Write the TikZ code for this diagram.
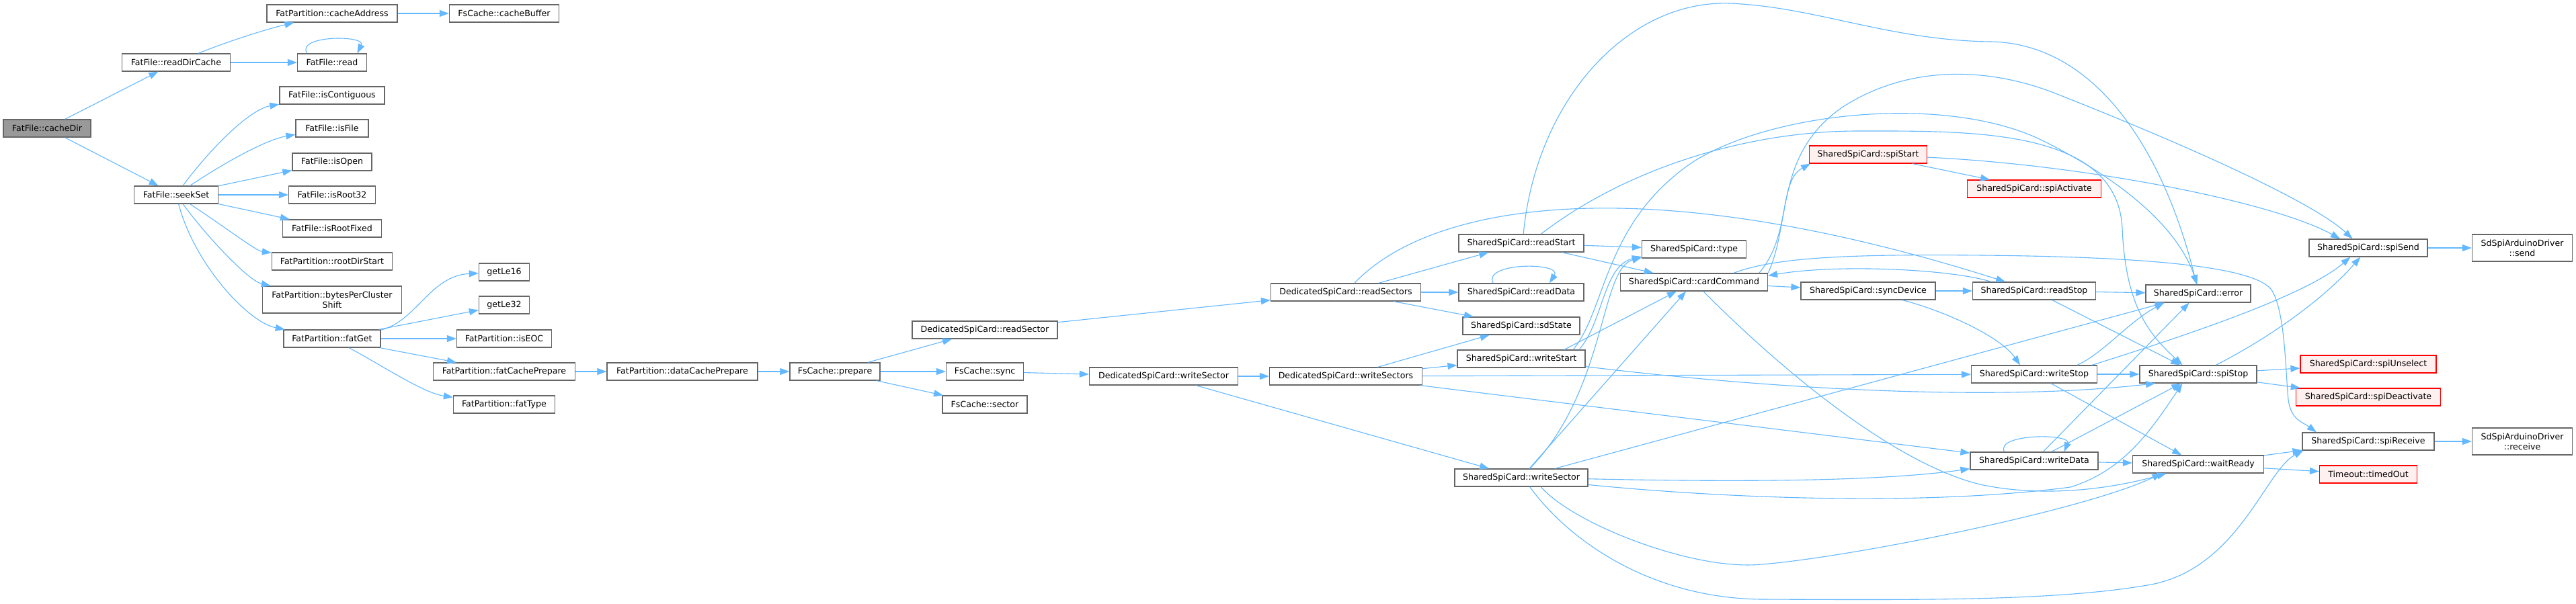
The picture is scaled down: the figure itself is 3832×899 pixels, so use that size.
\documentclass[tikz,border=0pt]{standalone}
\usepackage{fontspec}
\usetikzlibrary{arrows.meta}
\newfontfamily\dejavu{DejaVu Sans}
\newcommand{\fnfont}{\dejavu\fontsize{6.3pt}{7.4pt}\selectfont}
\definecolor{edgeblue}{HTML}{63B8FF}
\definecolor{boxgray}{HTML}{666666}
\definecolor{rootgray}{HTML}{999999}
\definecolor{extpink}{HTML}{FFF0F0}
\begin{document}
\begin{tikzpicture}[x=0.5pt, y=-0.5pt,
    fnbox/.style={draw=boxgray, fill=white, line width=0.6pt, inner sep=0pt, minimum height=13pt, align=center, font=\fnfont},
    rootbox/.style={fnbox, fill=rootgray},
    redbox/.style={fnbox, draw=red, fill=extpink},
    call/.style={draw=edgeblue, line width=0.55pt, -{Triangle[length=7pt,width=5pt]}}]
    \useasboundingbox (0,0) rectangle (3832,899);
    \fill[white] (0,0) rectangle (3832,899);

    % Nodes (FatFile / FatPartition side)
    \node[rootbox, minimum width=65pt] (cachedir) at (70,191) {FatFile::cacheDir};
    \node[fnbox, minimum width=80.5pt] (readdircache) at (262,93) {FatFile::readDirCache};
    \node[fnbox, minimum width=62.5pt] (seekset) at (262,290) {FatFile::seekSet};
    \node[fnbox, minimum width=97pt] (cacheaddress) at (494,20) {FatPartition::cacheAddress};
    \node[fnbox, minimum width=51.5pt] (read) at (494,93) {FatFile::read};
    \node[fnbox, minimum width=78pt] (iscontiguous) at (494,142) {FatFile::isContiguous};
    \node[fnbox, minimum width=54pt] (isfile) at (494,191) {FatFile::isFile};
    \node[fnbox, minimum width=59pt] (isopen) at (494,241) {FatFile::isOpen};
    \node[fnbox, minimum width=64.5pt] (isroot32) at (494,290) {FatFile::isRoot32};
    \node[fnbox, minimum width=73.5pt] (isrootfixed) at (494,340) {FatFile::isRootFixed};
    \node[fnbox, minimum width=89.5pt] (rootdirstart) at (494,389) {FatPartition::rootDirStart};
    \node[fnbox, minimum width=103.5pt, minimum height=20pt] (bytespercluster) at (494,446) {FatPartition::bytesPerCluster\\Shift};
    \node[fnbox, minimum width=72pt] (fatget) at (494,504) {FatPartition::fatGet};
    \node[fnbox, minimum width=81.5pt] (cachebuffer) at (750,20) {FsCache::cacheBuffer};
    \node[fnbox, minimum width=37.5pt] (getle16) at (750,405) {getLe16};
    \node[fnbox, minimum width=37.5pt] (getle32) at (750,454) {getLe32};
    \node[fnbox, minimum width=70.5pt] (iseoc) at (750,504) {FatPartition::isEOC};
    \node[fnbox, minimum width=105.5pt] (fatcacheprepare) at (750,553) {FatPartition::fatCachePrepare};
    \node[fnbox, minimum width=75.5pt] (fattype) at (750,602) {FatPartition::fatType};
    \node[fnbox, minimum width=112pt] (datacacheprepare) at (1015,553) {FatPartition::dataCachePrepare};

    % Nodes (cache and dedicated card)
    \node[fnbox, minimum width=67pt] (prepare) at (1242,553) {FsCache::prepare};
    \node[fnbox, minimum width=108pt] (readsector) at (1465,491) {DedicatedSpiCard::readSector};
    \node[fnbox, minimum width=57.5pt] (sync) at (1465,553) {FsCache::sync};
    \node[fnbox, minimum width=63pt] (sector) at (1465,602) {FsCache::sector};
    \node[fnbox, minimum width=110.5pt] (dwritesector) at (1731,560) {DedicatedSpiCard::writeSector};
    \node[fnbox, minimum width=111.5pt] (readsectors) at (2002,435) {DedicatedSpiCard::readSectors};
    \node[fnbox, minimum width=113.5pt] (writesectors) at (2002,560) {DedicatedSpiCard::writeSectors};

    % Nodes (shared card)
    \node[fnbox, minimum width=93pt] (readstart) at (2263,362) {SharedSpiCard::readStart};
    \node[fnbox, minimum width=93pt] (readdata) at (2263,435) {SharedSpiCard::readData};
    \node[fnbox, minimum width=87pt] (sdstate) at (2263,485) {SharedSpiCard::sdState};
    \node[fnbox, minimum width=95pt] (writestart) at (2263,534) {SharedSpiCard::writeStart};
    \node[fnbox, minimum width=99pt] (writesector) at (2263,711) {SharedSpiCard::writeSector};
    \node[fnbox, minimum width=77.5pt] (type) at (2520,371) {SharedSpiCard::type};
    \node[fnbox, minimum width=109.5pt] (cardcommand) at (2520,420) {SharedSpiCard::cardCommand};
    \node[redbox, minimum width=87.5pt] (spistart) at (2779,230) {SharedSpiCard::spiStart};
    \node[fnbox, minimum width=100pt] (syncdevice) at (2779,433) {SharedSpiCard::syncDevice};
    \node[redbox, minimum width=99.5pt] (spiactivate) at (3026,281) {SharedSpiCard::spiActivate};
    \node[fnbox, minimum width=91.5pt] (readstop) at (3026,433) {SharedSpiCard::readStop};
    \node[fnbox, minimum width=93.5pt] (writestop) at (3026,557) {SharedSpiCard::writeStop};
    \node[fnbox, minimum width=95pt] (writedata) at (3026,686) {SharedSpiCard::writeData};
    \node[fnbox, minimum width=78pt] (error) at (3270,437) {SharedSpiCard::error};
    \node[fnbox, minimum width=87pt] (spistop) at (3270,557) {SharedSpiCard::spiStop};
    \node[fnbox, minimum width=97.5pt] (waitready) at (3270,691) {SharedSpiCard::waitReady};
    \node[fnbox, minimum width=88pt] (spisend) at (3523,369) {SharedSpiCard::spiSend};
    \node[redbox, minimum width=101pt] (spiunselect) at (3523,542) {SharedSpiCard::spiUnselect};
    \node[redbox, minimum width=107.5pt] (spideactivate) at (3523,591) {SharedSpiCard::spiDeactivate};
    \node[fnbox, minimum width=98pt] (spireceive) at (3523,657) {SharedSpiCard::spiReceive};
    \node[redbox, minimum width=72.5pt] (timedout) at (3523,706) {Timeout::timedOut};
    \node[fnbox, minimum width=74.5pt, minimum height=20pt] (send) at (3752,369) {SdSpiArduinoDriver\\::send};
    \node[fnbox, minimum width=74.5pt, minimum height=20pt] (receive) at (3752,657) {SdSpiArduinoDriver\\::receive};

    % Arrows (FatFile / FatPartition side)
    \draw[call] (cachedir) -- (readdircache);
    \draw[call] (cachedir) -- (seekset);
    \draw[call] (readdircache) .. controls (330,65) and (390,45) .. (cacheaddress);
    \draw[call] (readdircache) -- (read);
    \draw[call] (cacheaddress) -- (cachebuffer);
    \draw[call] (read.160) .. controls (440,52) and (545,52) .. (read.20);
    \draw[call] (seekset) .. controls (310,225) and (370,163) .. (iscontiguous);
    \draw[call] (seekset) .. controls (345,235) and (400,207) .. (isfile);
    \draw[call] (seekset) -- (isopen);
    \draw[call] (seekset) -- (isroot32);
    \draw[call] (seekset) -- (isrootfixed);
    \draw[call] (seekset) .. controls (345,345) and (380,373) .. (rootdirstart);
    \draw[call] (seekset) .. controls (310,355) and (370,418) .. (bytespercluster);
    \draw[call] (seekset) .. controls (290,395) and (370,480) .. (fatget);
    \draw[call] (fatget.10) .. controls (620,478) and (640,410) .. (getle16);
    \draw[call] (fatget) -- (getle32);
    \draw[call] (fatget) -- (iseoc);
    \draw[call] (fatget) -- (fatcacheprepare);
    \draw[call] (fatget) .. controls (570,545) and (630,585) .. (fattype);
    \draw[call] (fatcacheprepare) -- (datacacheprepare);
    \draw[call] (datacacheprepare) -- (prepare);

    % Arrows (cache and dedicated card)
    \draw[call] (prepare) -- (readsector);
    \draw[call] (prepare) -- (sync);
    \draw[call] (prepare) -- (sector);
    \draw[call] (sync) -- (dwritesector);
    \draw[call] (readsector) -- (readsectors);
    \draw[call] (dwritesector) -- (writesectors);
    \draw[call] (dwritesector) -- (writesector);
    \draw[call] (readsectors) -- (readstart);
    \draw[call] (readsectors) -- (readdata);
    \draw[call] (readsectors) -- (sdstate);
    \draw[call] (readsectors) .. controls (2130,300) and (2450,250) .. (readstop);
    \draw[call] (writesectors) -- (sdstate);
    \draw[call] (writesectors) -- (writestart);
    \draw[call] (writesectors) -- (writestop);
    \draw[call] (writesectors) -- (writedata);

    % Arrows (shared card)
    \draw[call] (readdata.162) .. controls (2205,390) and (2325,390) .. (readdata.18);
    \draw[call] (readstart) -- (type);
    \draw[call] (readstart) -- (cardcommand);
    \draw[call] (readstart.77) .. controls (2285,150) and (2420,0) .. (2573,5)
        .. controls (2700,10) and (2810,60) .. (2960,62)
        .. controls (3120,64) and (3220,230) .. (error.100);
    \draw[call] (readstart.25) .. controls (2420,250) and (2600,195) .. (2764,195)
        .. controls (2930,195) and (3150,190) .. (3157,340)
        .. controls (3162,460) and (3200,500) .. (spistop.150);
    \draw[call] (writestart.9) .. controls (2385,480) and (2385,395) .. (type.188);
    \draw[call] (writestart.12) -- (cardcommand);
    \draw[call] (writestart.10) .. controls (2390,460) and (2385,330) .. (2520,240)
        .. controls (2640,165) and (2900,140) .. (3040,210)
        .. controls (3160,270) and (3240,340) .. (error.96);
    \draw[call] (writestart) .. controls (2600,575) and (2950,600) .. (spistop.192);
    \draw[call] (writesector.47) .. controls (2390,580) and (2380,400) .. (type.189);
    \draw[call] (writesector) -- (cardcommand);
    \draw[call] (writesector) -- (error);
    \draw[call] (writesector.-1) .. controls (2600,718) and (2800,716) .. (writedata.187);
    \draw[call] (writesector.-6) .. controls (2550,740) and (2850,755) .. (3080,725)
        .. controls (3160,700) and (3200,640) .. (spistop.210);
    \draw[call] (writesector.-25) .. controls (2340,780) and (2520,850) .. (2620,840)
        .. controls (2750,830) and (3100,760) .. (waitready.194);
    \draw[call] (writesector.-47) .. controls (2330,800) and (2450,890) .. (2620,892)
        .. controls (2850,893) and (3060,895) .. (3200,870)
        .. controls (3330,845) and (3370,700) .. (spireceive.188);
    \draw[call] (cardcommand) -- (syncdevice);
    \draw[call] (cardcommand.8) .. controls (2665,350) and (2645,270) .. (spistart.189);
    \draw[call] (cardcommand.7) .. controls (2665,330) and (2640,230) .. (2740,160)
        .. controls (2840,95) and (2960,100) .. (3060,140)
        .. controls (3250,215) and (3440,300) .. (spisend.150);
    \draw[call] (cardcommand.13) .. controls (2640,383) and (2750,378) .. (2950,380)
        .. controls (3150,382) and (3345,392) .. (3378,430)
        .. controls (3400,460) and (3400,560) .. (3404,595)
        .. controls (3408,625) and (3425,628) .. (spireceive.170);
    \draw[call] (cardcommand.-45) .. controls (2700,600) and (2850,700) .. (2950,722)
        .. controls (3050,742) and (3150,725) .. (waitready.196);
    \draw[call] (spistart) -- (spiactivate);
    \draw[call] (spistart) .. controls (3100,245) and (3380,300) .. (spisend.162);
    \draw[call] (syncdevice) -- (readstop);
    \draw[call] (syncdevice.-15) .. controls (2890,462) and (2975,500) .. (writestop.147);
    \draw[call] (readstop.168) .. controls (2900,400) and (2730,393) .. (cardcommand.5);
    \draw[call] (readstop) -- (error);
    \draw[call] (readstop) -- (spistop);
    \draw[call] (writestop) -- (spistop);
    \draw[call] (writestop) -- (waitready);
    \draw[call] (writestop.12) .. controls (3130,525) and (3165,480) .. (error.195);
    \draw[call] (writestop.9) .. controls (3250,500) and (3430,440) .. (spisend.207);
    \draw[call] (writedata.163) .. controls (2968,645) and (3082,645) .. (writedata.17);
    \draw[call] (writedata) -- (waitready);
    \draw[call] (writedata) -- (error);
    \draw[call] (writedata) -- (spistop);
    \draw[call] (waitready) -- (spireceive);
    \draw[call] (waitready) -- (timedout);
    \draw[call] (spistop) -- (spiunselect);
    \draw[call] (spistop) -- (spideactivate);
    \draw[call] (spistop) .. controls (3400,490) and (3470,430) .. (spisend);
    \draw[call] (spisend) -- (send);
    \draw[call] (spireceive) -- (receive);
\end{tikzpicture}
\end{document}
